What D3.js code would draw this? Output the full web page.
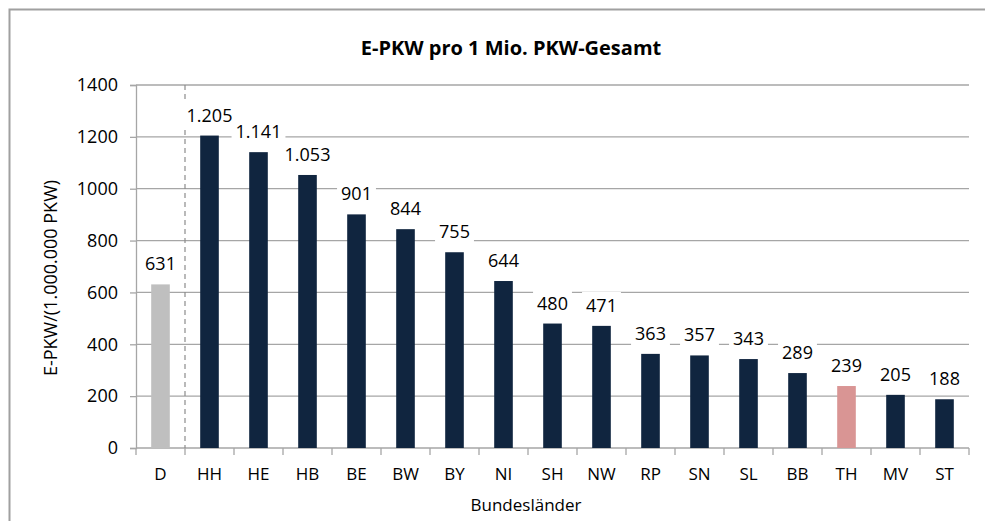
<!DOCTYPE html>
<html><head><meta charset="utf-8">
<script src="https://cdn.jsdelivr.net/npm/d3@7"></script>
<style>
html,body{margin:0;padding:0;background:#fff;}
svg{display:block;font-family:"Open Sans","Noto Sans",sans-serif;}
</style></head>
<body>
<svg id="chart" width="985" height="521"></svg>
<script>
const categories = ["D","HH","HE","HB","BE","BW","BY","NI","SH","NW","RP","SN","SL","BB","TH","MV","ST"];
const values = [631,1205,1141,1053,901,844,755,644,480,471,363,357,343,289,239,205,188];
const yTicks = [0,200,400,600,800,1000,1200,1400];
const chartTitle = "E-PKW pro 1 Mio. PKW-Gesamt";
const yTitle = "E-PKW/(1.000.000 PKW)";
const xTitle = "Bundesländer";
const colorFor = c => c === "D" ? "#bfbfbf" : (c === "TH" ? "#d99594" : "#10253f");

(function(){
const svg = d3.select("#chart");
const W = 985, H = 521;
// frame
svg.append("path").attr("d", `M9.5,${H} L9.5,9.5 L${W},9.5`).attr("fill","none").attr("stroke","#a0a0a0").attr("stroke-width",2);

const pL = 136, pR = 969, pT = 85, pB = 448;
const x = d3.scaleBand().domain(categories).range([pL,pR]).paddingInner(0.62).paddingOuter(0.31);
const y = d3.scaleLinear().domain([0,1400]).range([pB,pT]);
const de = d3.formatLocale({decimal:",",thousands:".",grouping:[3],currency:["","€"]});
const fmt = de.format(",d");

// gridlines
svg.append("g").selectAll("line").data(yTicks.filter(t=>t>0)).join("line")
  .attr("x1",pL).attr("x2",pR).attr("y1",d=>y(d)).attr("y2",d=>y(d))
  .attr("stroke","#a6a6a6").attr("stroke-width",1.3);

// y axis
const yAxis = svg.append("g").attr("transform",`translate(${pL},0)`)
  .call(d3.axisLeft(y).tickValues(yTicks).tickFormat(d3.format("d")).tickSize(6).tickPadding(12));
yAxis.select(".domain").attr("stroke","#a6a6a6").attr("stroke-width",1.3);
yAxis.selectAll(".tick line").attr("stroke","#a6a6a6").attr("stroke-width",1.3);
yAxis.selectAll("text").attr("font-size",18).attr("fill","#000").attr("font-family","Open Sans");

// x axis
const step = x.step();
const xAxisG = svg.append("g").attr("transform",`translate(0,${pB})`);
xAxisG.append("line").attr("x1",pL).attr("x2",pR).attr("stroke","#a6a6a6").attr("stroke-width",1.3);
xAxisG.selectAll("line.tk").data(d3.range(categories.length+1)).join("line").attr("class","tk")
  .attr("x1",i=>pL+i*step).attr("x2",i=>pL+i*step).attr("y1",0).attr("y2",7)
  .attr("stroke","#a6a6a6").attr("stroke-width",1.3);
xAxisG.selectAll("text").data(categories).join("text")
  .attr("x",d=>x(d)+x.bandwidth()/2).attr("y",32).attr("text-anchor","middle")
  .attr("font-size",17).attr("fill","#000").text(d=>d);

// dashed separator
svg.append("line").attr("x1",pL+step).attr("x2",pL+step).attr("y1",pT).attr("y2",pB)
  .attr("stroke","#8c8c8c").attr("stroke-width",1.2).attr("stroke-dasharray","5,4");

// bars
svg.append("g").selectAll("rect").data(categories).join("rect")
  .attr("x",d=>x(d)).attr("width",x.bandwidth())
  .attr("y",(d,i)=>y(values[i])).attr("height",(d,i)=>pB-y(values[i]))
  .attr("fill",d=>colorFor(d));

// labels with white background
const lg = svg.append("g");
categories.forEach((c,i)=>{
  const cx = x(c)+x.bandwidth()/2, cy = y(values[i]) - 14;
  const t = lg.append("text").attr("x",cx).attr("y",cy).attr("text-anchor","middle")
    .attr("font-size",18).attr("fill","#000").text(fmt(values[i]));
  const bb = t.node().getBBox();
  lg.insert("rect","text").attr("x",bb.x-4).attr("y",bb.y-1).attr("width",bb.width+8).attr("height",bb.height+2).attr("fill","#fff");
});
lg.selectAll("text").raise();

// titles
svg.append("text").attr("x",511).attr("y",55).attr("text-anchor","middle")
  .attr("font-size",20).attr("font-weight","bold").attr("fill","#000").text(chartTitle);
svg.append("text").attr("transform","translate(57,278) rotate(-90)").attr("text-anchor","middle")
  .attr("font-size",18).attr("fill","#000").text(yTitle);
svg.append("text").attr("x",526).attr("y",511).attr("text-anchor","middle")
  .attr("font-size",17).attr("fill","#000").text(xTitle);
})();
</script>
</body></html>
